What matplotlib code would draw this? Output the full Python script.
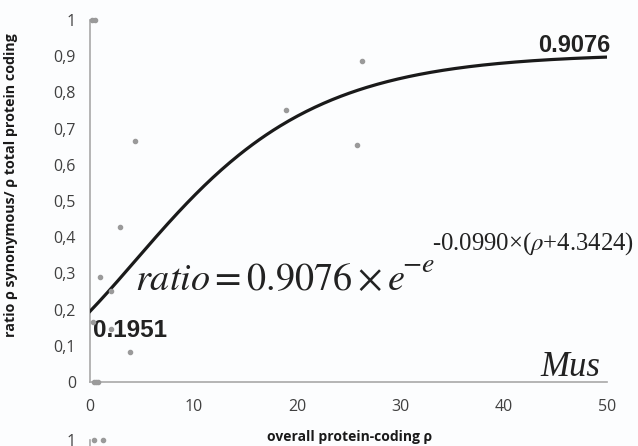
import numpy as np
import matplotlib
matplotlib.use('Agg')
from matplotlib import pyplot as plt
from matplotlib.ticker import FuncFormatter

plt.rcParams['font.family'] = ['Open Sans', 'DejaVu Sans']
plt.rcParams['mathtext.fontset'] = 'stix'

# observed points: overall protein-coding rho vs synonymous ratio
rho = [0.2, 0.5, 4.4, 2.9, 1.0, 2.0, 0.3, 2.0, 3.9, 0.4, 0.6, 0.8, 26.3, 18.9, 25.8]
ratio = [1.0, 1.0, 0.667, 0.427, 0.289, 0.251, 0.167, 0.146, 0.084, 0.0, 0.0, 0.0, 0.886, 0.751, 0.656]

# Gompertz fit parameters
a, b, c = 0.9076, 0.0990, 4.3424

# next panel (only its top edge is visible)
rho2 = [0.4, 1.3]
ratio2 = [1.0, 1.0]

x_ticks = [0, 10, 20, 30, 40, 50]
y_ticks = [0, 0.1, 0.2, 0.3, 0.4, 0.5, 0.6, 0.7, 0.8, 0.9, 1.0]

fig = plt.figure(figsize=(6.38, 4.46), dpi=100)
fig.patch.set_facecolor('#fcfdfe')

ax = fig.add_axes([0.141, 0.1435, 0.811, 0.8115])
ax.set_facecolor('none')

xs = np.linspace(0, 50, 300)
ys = a * np.exp(-np.exp(-b * (xs - c)))
ax.plot(xs, ys, color='#1a1a1a', lw=2.3, zorder=3)

ax.set_xlim(0, 50)
ax.set_ylim(0, 1)
ax.set_xticks(x_ticks)
ax.set_yticks(y_ticks)
comma = FuncFormatter(lambda v, p: ('%g' % round(v, 1)).replace('.', ','))
ax.yaxis.set_major_formatter(comma)
ax.tick_params(length=0, labelsize=11.5, labelcolor='#404040', pad=12)
ax.tick_params(axis='y', pad=10)
for s in ['top', 'right']:
    ax.spines[s].set_visible(False)
for s in ['left', 'bottom']:
    ax.spines[s].set_color('#a8a8a8')
    ax.spines[s].set_linewidth(1.2)

ax.set_ylabel('ratio ρ synonymous/ ρ total protein coding', fontsize=10.3,
              fontweight='bold', color='#1a1a1a')
ax.yaxis.set_label_coords(-0.139, 0.544)

y0 = a * np.exp(-np.exp(b * c))
ax.text(0.3, y0 - 0.054, '%.4f' % y0, fontsize=17.5, fontweight='bold', color='#222222',
        family='Liberation Sans', va='center', ha='left', zorder=4)
ax.text(50.3, a + 0.023, '%.4f' % a, fontsize=17, fontweight='bold', color='#222222',
        family='Liberation Sans', va='center', ha='right', zorder=4)

ax.scatter(rho, ratio, s=9, color='#9a9a9a', zorder=5, clip_on=False)

# fitted equation, built from three pieces so the exponents keep their size
ax.text(4.35, 0.254, r'$ratio = 0.9076\times e$', fontsize=27.5, color='#222222',
        va='baseline', ha='left', zorder=4)
ax.text(30.2, 0.304, r'$-e$', fontsize=20, color='#222222',
        va='baseline', ha='left', zorder=4)
ax.text(33.1, 0.365, r'-0.0990×($\rho$+4.3424)', fontsize=17.8, color='#222222',
        family='Liberation Serif', va='baseline', ha='left', zorder=4)

ax.text(49.3, 0.0166, 'Mus', fontsize=25, style='italic', family='Liberation Serif',
        color='#222222', ha='right', va='baseline')

fig.text(0.548, 0.02, 'overall protein-coding ρ', fontsize=10, fontweight='bold',
         color='#1a1a1a', ha='center', va='center')

# top of the following panel
ax2 = fig.add_axes([0.141, -0.8, 0.811, 0.8135])
ax2.set_facecolor('none')
ax2.scatter(rho2, ratio2, s=9, color='#9a9a9a', clip_on=False)
ax2.set_xlim(0, 50)
ax2.set_ylim(0, 1)
ax2.set_yticks([1])
ax2.set_xticks([])
ax2.tick_params(length=0, labelsize=11.5, labelcolor='#404040', pad=10)
for s in ['top', 'right', 'bottom']:
    ax2.spines[s].set_visible(False)
ax2.spines['left'].set_color('#a8a8a8')
ax2.spines['left'].set_linewidth(1.2)

fig.savefig('out.png', dpi=100)
